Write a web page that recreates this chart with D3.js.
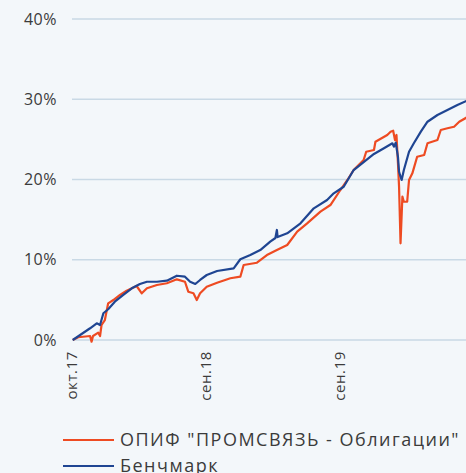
<!DOCTYPE html>
<html>
<head>
<meta charset="utf-8">
<script src="https://cdn.jsdelivr.net/npm/d3@7"></script>
<style>
  html, body { margin: 0; padding: 0; background: #f3f7fa; overflow: hidden; }
  text { font-family: "Open Sans", "Noto Sans", sans-serif; fill: #3b3b3b; }
</style>
</head>
<body>
<div id="chart"></div>
<script>
// series: [date, % return]
const fundSeries = [
  ["2017-10-04", 0.0], ["2017-10-19", 0.34], ["2017-11-20", 0.5], ["2017-11-24", -0.21],
  ["2017-11-28", 0.5], ["2017-12-12", 0.91], ["2017-12-17", 0.5], ["2017-12-21", 1.87],
  ["2017-12-30", 2.49], ["2018-01-08", 4.57], ["2018-01-22", 4.98], ["2018-02-09", 5.61],
  ["2018-02-27", 6.14], ["2018-03-26", 6.73], ["2018-04-09", 5.82], ["2018-04-23", 6.44],
  ["2018-05-20", 6.85], ["2018-06-16", 7.07], ["2018-07-13", 7.56], ["2018-08-04", 7.26],
  ["2018-08-13", 6.02], ["2018-08-27", 5.82], ["2018-09-05", 4.98], ["2018-09-14", 5.82],
  ["2018-10-02", 6.64], ["2018-10-30", 7.14], ["2018-12-05", 7.69], ["2019-01-01", 7.89],
  ["2019-01-10", 9.35], ["2019-02-15", 9.63], ["2019-03-14", 10.59], ["2019-04-10", 11.21],
  ["2019-05-08", 11.84], ["2019-06-04", 13.5], ["2019-07-01", 14.54], ["2019-08-06", 15.99],
  ["2019-09-02", 16.82], ["2019-09-29", 18.69], ["2019-10-18", 19.94], ["2019-11-04", 21.18],
  ["2019-12-01", 22.43], ["2019-12-08", 23.46], ["2019-12-29", 23.68], ["2020-01-02", 24.71],
  ["2020-02-03", 25.55], ["2020-02-12", 25.96], ["2020-02-19", 26.08], ["2020-02-24", 24.92],
  ["2020-02-28", 25.55], ["2020-03-03", 22.02], ["2020-03-06", 19.1], ["2020-03-10", 12.05],
  ["2020-03-15", 17.86], ["2020-03-19", 17.23], ["2020-03-28", 17.23], ["2020-04-02", 19.94],
  ["2020-04-11", 20.77], ["2020-04-24", 22.84], ["2020-05-13", 23.05], ["2020-05-22", 24.51],
  ["2020-06-18", 24.92], ["2020-06-27", 26.17], ["2020-07-15", 26.38], ["2020-08-02", 26.58],
  ["2020-08-16", 27.2], ["2020-09-06", 27.75]
];

const benchSeries = [
  ["2017-10-04", 0.0], ["2017-10-24", 0.62], ["2017-11-20", 1.46], ["2017-12-08", 2.08],
  ["2017-12-17", 1.87], ["2017-12-26", 3.33], ["2018-01-08", 3.83], ["2018-01-26", 4.77],
  ["2018-02-18", 5.61], ["2018-03-13", 6.44], ["2018-04-04", 6.98], ["2018-04-23", 7.26],
  ["2018-05-20", 7.26], ["2018-06-16", 7.39], ["2018-07-13", 8.01], ["2018-08-04", 7.89],
  ["2018-08-18", 7.26], ["2018-09-01", 6.98], ["2018-09-14", 7.48], ["2018-10-02", 8.1],
  ["2018-10-30", 8.6], ["2018-12-14", 8.93], ["2019-01-01", 10.06], ["2019-01-28", 10.59],
  ["2019-02-24", 11.21], ["2019-03-23", 12.25], ["2019-04-06", 12.71], ["2019-04-10", 13.71],
  ["2019-04-12", 12.83], ["2019-05-08", 13.3], ["2019-06-13", 14.54], ["2019-07-19", 16.41],
  ["2019-08-24", 17.45], ["2019-09-11", 18.28], ["2019-10-08", 19.1], ["2019-11-04", 21.18],
  ["2019-12-29", 23.18], ["2020-01-25", 23.89], ["2020-02-17", 24.51], ["2020-02-21", 24.09],
  ["2020-02-26", 24.59], ["2020-03-03", 22.84], ["2020-03-06", 20.97], ["2020-03-10", 20.35],
  ["2020-03-13", 19.94], ["2020-03-19", 21.18], ["2020-04-02", 23.46], ["2020-04-15", 24.51],
  ["2020-05-04", 25.96], ["2020-05-22", 27.2], ["2020-06-18", 28.04], ["2020-07-15", 28.66],
  ["2020-08-11", 29.28], ["2020-09-06", 29.82]
];

const seriesNames = ["ОПИФ \"ПРОМСВЯЗЬ - Облигации\"", "Бенчмарк"];
const seriesColors = ["#ee4b22", "#1f4592"];

const yTicks = [0, 10, 20, 30, 40];
const xTickDates = ["2017-10-02", "2018-09-30", "2019-09-28", "2020-09-25"];
const xTickLabels = ["окт.17", "сен.18", "сен.19", "сен.20"];

const width = 466, height = 473;
const margin = { top: 19, right: -8, bottom: 133, left: 72 };

const parse = d3.timeParse("%Y-%m-%d");

const svg = d3.select("#chart").append("svg")
    .attr("width", width)
    .attr("height", height);

svg.append("rect").attr("width", width).attr("height", height).attr("fill", "#f3f7fa");

const x = d3.scaleTime()
    .domain([parse(xTickDates[0]), parse(xTickDates[xTickDates.length - 1])])
    .range([margin.left, width - margin.right]);

const y = d3.scaleLinear()
    .domain([0, 40])
    .range([height - margin.bottom, margin.top]);

// gridlines + y labels
const yAxis = svg.append("g");
yTicks.forEach(t => {
    yAxis.append("line")
        .attr("x1", margin.left).attr("x2", width)
        .attr("y1", y(t)).attr("y2", y(t))
        .attr("stroke", "#c9d9e5").attr("stroke-width", 1.3);
    yAxis.append("text")
        .attr("x", 57).attr("y", y(t))
        .attr("dy", "0.35em")
        .attr("text-anchor", "end")
        .style("font-size", "16px")
        .style("letter-spacing", "0.5px")
        .text(t + "%");
});

// x labels, rotated
xTickDates.forEach((d, i) => {
    svg.append("text")
        .attr("transform", `translate(${x(parse(d)) + 5},${y(0) + 11}) rotate(-90)`)
        .attr("text-anchor", "end")
        .style("font-size", "15px")
        .style("letter-spacing", "0.6px")
        .text(xTickLabels[i]);
});

const line = d3.line()
    .x(d => x(parse(d[0])))
    .y(d => y(d[1]));

[fundSeries, benchSeries].forEach((s, i) => {
    svg.append("path")
        .datum(s)
        .attr("fill", "none")
        .attr("stroke", seriesColors[i])
        .attr("stroke-width", 2.2)
        .attr("stroke-linejoin", "round")
        .attr("d", line);
});

// legend
const legend = svg.append("g").attr("transform", "translate(63,440)");
seriesNames.forEach((n, i) => {
    const row = legend.append("g").attr("transform", `translate(0,${i * 26})`);
    row.append("line")
        .attr("x1", 0).attr("x2", 51)
        .attr("stroke", seriesColors[i]).attr("stroke-width", 2);
    row.append("text")
        .attr("x", 57).attr("dy", "0.35em")
        .style("font-size", "18px")
        .style("letter-spacing", "1.5px")
        .text(n);
});
</script>
</body>
</html>
